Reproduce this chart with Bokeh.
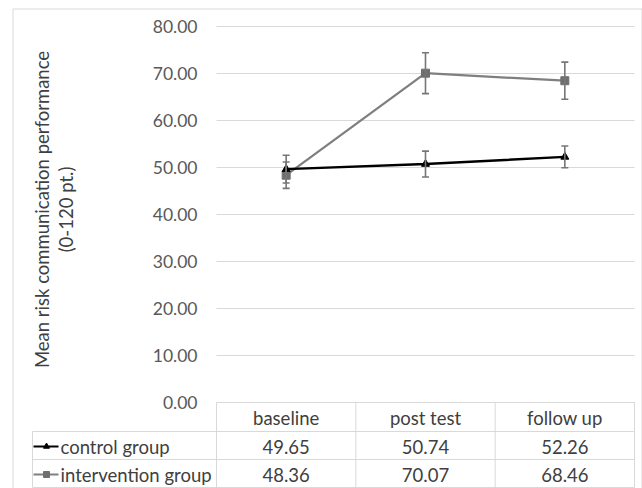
import math
from bokeh.plotting import figure
from bokeh.models import Range1d, ColumnDataSource, Whisker, TeeHead
from bokeh.embed import file_html
from bokeh.resources import INLINE
from bokeh.core.properties import value

# ---------------- data ----------------
categories = ["baseline", "post test", "follow up"]
series_names = ["control group", "intervention group"]
control = [49.65, 50.74, 52.26]
intervention = [48.36, 70.07, 68.46]
control_err = [2.95, 2.75, 2.3]
intervention_err = [2.8, 4.35, 3.95]
y_ticks = [0, 10, 20, 30, 40, 50, 60, 70, 80]
y_title = ["Mean risk communication performance", "(0-120 pt.)"]

# ---------------- layout (canvas px) ----------------
FONT = "Lato"
W, H = 642, 488
PLOT_L, PLOT_R = 216, 634          # plot area (canvas px)
Y_MAX = 80
Y_TOP_PX = 26                      # canvas px of Y_MAX
Y0_PX = 402                        # canvas px of value 0
PPU = (Y0_PX - Y_TOP_PX) / Y_MAX   # px per y unit
COL_W = (PLOT_R - PLOT_L) / len(categories)

def sx(cx):
    return (cx - PLOT_L) / COL_W

def sy(cy):
    return (Y0_PX - cy) / PPU

xpos = [i + 0.5 for i in range(len(categories))]
n = len(categories)

TXT = "#404040"
TICK = "#595959"
GRID = "#d9d9d9"
C_CTRL = "#000000"
C_INT = "#7f7f7f"
C_INT_M = "#6f6f6f"
C_ERR = "#767676"

p = figure(width=W, height=H,
           x_range=Range1d(sx(0), sx(W)), y_range=Range1d(sy(H), sy(0)),
           x_axis_location=None, y_axis_location=None,
           output_backend="svg", toolbar_location=None,
           min_border=0, min_border_left=0, min_border_right=0,
           min_border_top=0, min_border_bottom=0)
p.outline_line_color = None
p.grid.visible = False
p.background_fill_color = "white"

# ---------------- outer border ----------------
p.quad(left=[sx(12.5)], right=[sx(641.5)], top=[sy(8.5)], bottom=[sy(H + 20)],
       fill_alpha=0, line_color=GRID, line_width=1)

# ---------------- gridlines & y tick labels ----------------
p.segment(x0=[0] * len(y_ticks), x1=[n] * len(y_ticks), y0=y_ticks, y1=y_ticks,
          line_color=GRID, line_width=1)
p.text(x=[sx(197)] * len(y_ticks), y=y_ticks, text=["%.2f" % t for t in y_ticks],
       text_font=value(FONT), text_font_size="17.5px", text_color=TICK,
       text_align="right", text_baseline="middle")

# ---------------- y title ----------------
p.text(x=[sx(41), sx(65)], y=[sy(209)] * 2, text=y_title, angle=math.pi / 2,
       text_font=value(FONT), text_font_size="18.5px", text_color=TXT,
       text_align="center", text_baseline="alphabetic")

# ---------------- error bars ----------------
for vals, errs in ((control, control_err), (intervention, intervention_err)):
    src = ColumnDataSource(dict(x=xpos,
                                upper=[v + e for v, e in zip(vals, errs)],
                                lower=[v - e for v, e in zip(vals, errs)]))
    p.add_layout(Whisker(base="x", upper="upper", lower="lower", source=src,
                         line_color=C_ERR, line_width=1.6, level="glyph",
                         upper_head=TeeHead(size=7, line_color=C_ERR, line_width=1.6),
                         lower_head=TeeHead(size=7, line_color=C_ERR, line_width=1.6)))

# ---------------- series ----------------
p.line(xpos, intervention, line_color=C_INT, line_width=2.25)
p.scatter(xpos, intervention, marker="square", size=8,
          fill_color=C_INT_M, line_color=C_INT_M)
p.line(xpos, control, line_color=C_CTRL, line_width=2.4)
p.scatter(xpos, control, marker="triangle", size=8,
          fill_color=C_CTRL, line_color=C_CTRL)

# ---------------- data table ----------------
ROW_T = [Y0_PX, 431, 459]
ROW_B = [431, 459, 487]
y_bot = sy(ROW_B[-1])
tab_left = sx(32)
# horizontal lines
p.segment(x0=[0] + [tab_left] * 3, x1=[n] * 4,
          y0=[0] + [sy(b) for b in ROW_B], y1=[0] + [sy(b) for b in ROW_B],
          line_color=GRID, line_width=1)
# vertical lines
p.segment(x0=list(range(n + 1)) + [tab_left], x1=list(range(n + 1)) + [tab_left],
          y0=[0] * (n + 1) + [sy(ROW_T[1])], y1=[y_bot] * (n + 2),
          line_color=GRID, line_width=1)

row_mid = [sy((t + b) / 2 + 1) for t, b in zip(ROW_T, ROW_B)]
tbl = ColumnDataSource(dict(
    x=xpos * 3,
    y=[row_mid[0]] * n + [row_mid[1]] * n + [row_mid[2]] * n,
    t=categories + ["%.2f" % v for v in control] + ["%.2f" % v for v in intervention]))
p.text(x="x", y="y", text="t", source=tbl, text_font=value(FONT),
       text_font_size="18.5px", text_color=TXT, text_align="center",
       text_baseline="middle")

# legend keys + row labels
key_y = row_mid[1:]
p.segment(x0=[sx(33)] * 2, x1=[sx(58)] * 2, y0=key_y, y1=key_y,
          line_color=[C_CTRL, C_INT], line_width=2)
p.scatter([sx(46)], [key_y[0]], marker="triangle", size=6,
          fill_color=C_CTRL, line_color=C_CTRL)
p.scatter([sx(46)], [key_y[1]], marker="square", size=6,
          fill_color=C_INT_M, line_color=C_INT_M)
p.text(x=[sx(60)] * 2, y=key_y, text=series_names, text_font=value(FONT),
       text_font_size="18.5px", text_color=TXT, text_align="left",
       text_baseline="middle")

open("out.html", "w").write(file_html(p, INLINE))
